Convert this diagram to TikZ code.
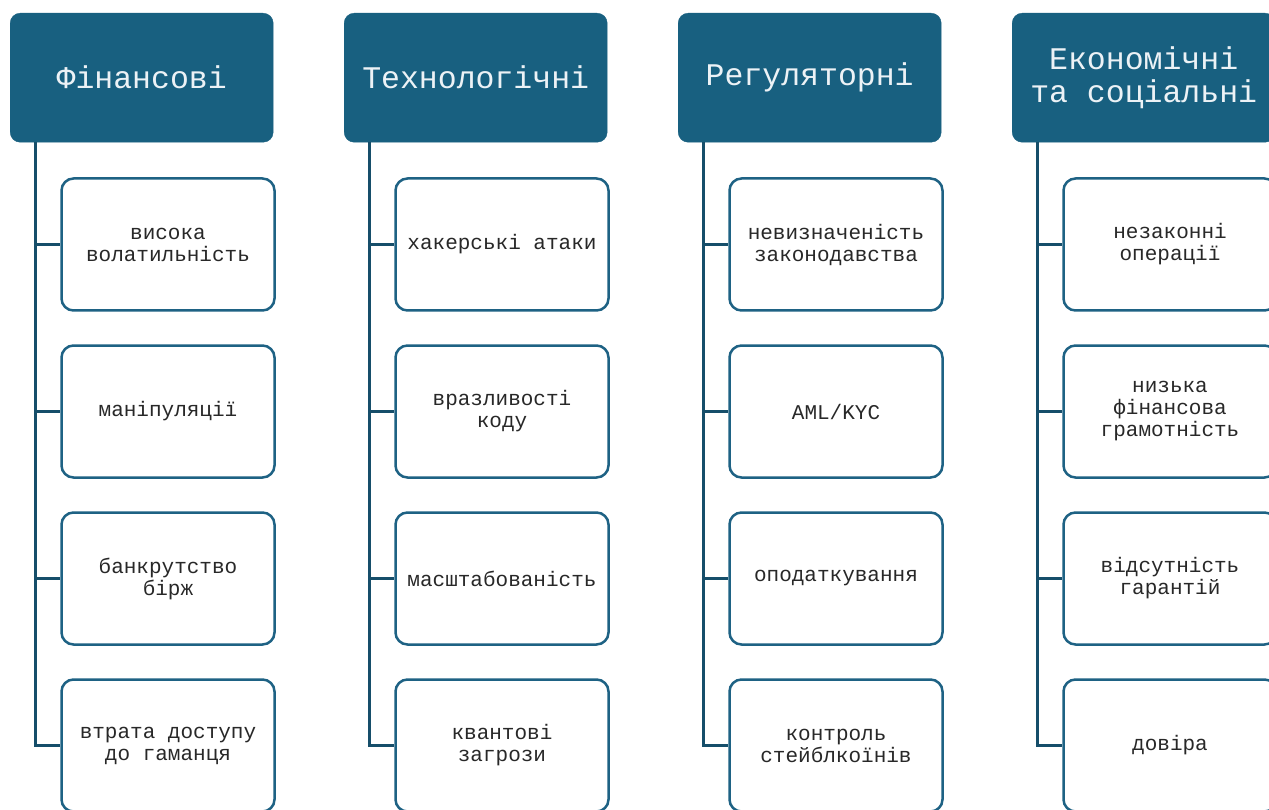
\documentclass[tikz,border=0pt]{standalone}
\usepackage{fontspec}
\newfontfamily\cour{Liberation Mono}
\definecolor{hdrblue}{RGB}{24,96,128}
\definecolor{boxblue}{RGB}{30,98,132}
\definecolor{connblue}{RGB}{22,78,106}
\definecolor{txtgray}{RGB}{40,40,40}
\definecolor{hdrtxt}{RGB}{236,242,246}
\tikzset{
  hdr/.style={fill=hdrblue, draw=hdrblue, rounded corners=10pt, minimum width=263pt, minimum height=129pt, inner sep=0pt, align=center, text=hdrtxt, font=\cour\fontsize{31.5}{33}\selectfont, anchor=north west},
  item/.style={fill=white, draw=boxblue, line width=2.5pt, rounded corners=12pt, minimum width=213pt, minimum height=132pt, inner sep=0pt, align=center, text=txtgray, font=\cour\fontsize{21}{22}\selectfont},
  conn/.style={draw=connblue, line width=3pt}
}
\begin{document}
\begin{tikzpicture}[x=1pt,y=-1pt]
\clip (0,0) rectangle (1269,810);
\fill[white] (0,0) rectangle (1269,810);
% headers
\node[hdr] (h1) at (10,13) {Фінансові};
\node[hdr] (h2) at (344,13) {Технологічні};
\node[hdr] (h3) at (678,13) {Регуляторні};
\node[hdr] (h4) at (1012,13) {Економічні\\та соціальні};
% trunk tops
\coordinate (t1) at (35,142);
\coordinate (t2) at (369,142);
\coordinate (t3) at (703,142);
\coordinate (t4) at (1037,142);
% items
\foreach \c/\x in {1/168, 2/502, 3/836, 4/1170}{
  \coordinate (r\c1) at (\x,244.5);
  \coordinate (r\c2) at (\x,411.5);
  \coordinate (r\c3) at (\x,578.5);
  \coordinate (r\c4) at (\x,745.5);
}
% connectors (drawn first, under boxes)
\node[item] (b11) at (r11) {висока\\волатильність};
\node[item] (b12) at (r12) {маніпуляції};
\node[item] (b13) at (r13) {банкрутство\\бірж};
\node[item] (b14) at (r14) {втрата доступу\\до гаманця};
\node[item] (b21) at (r21) {хакерські атаки};
\node[item] (b22) at (r22) {вразливості\\коду};
\node[item] (b23) at (r23) {масштабованість};
\node[item] (b24) at (r24) {квантові\\загрози};
\node[item] (b31) at (r31) {невизначеність\\законодавства};
\node[item] (b32) at (r32) {AML/KYC};
\node[item] (b33) at (r33) {оподаткування};
\node[item] (b34) at (r34) {контроль\\стейблкоїнів};
\node[item] (b41) at (r41) {незаконні\\операції};
\node[item] (b42) at (r42) {низька\\фінансова\\грамотність};
\node[item] (b43) at (r43) {відсутність\\гарантій};
\node[item] (b44) at (r44) {довіра};
\foreach \c in {1,2,3,4}{
  \draw[conn] (t\c) |- (b\c4.west);
  \foreach \r in {1,2,3}{
    \draw[conn] (t\c |- b\c\r.west) -- (b\c\r.west);
  }
}
\end{tikzpicture}
\end{document}
